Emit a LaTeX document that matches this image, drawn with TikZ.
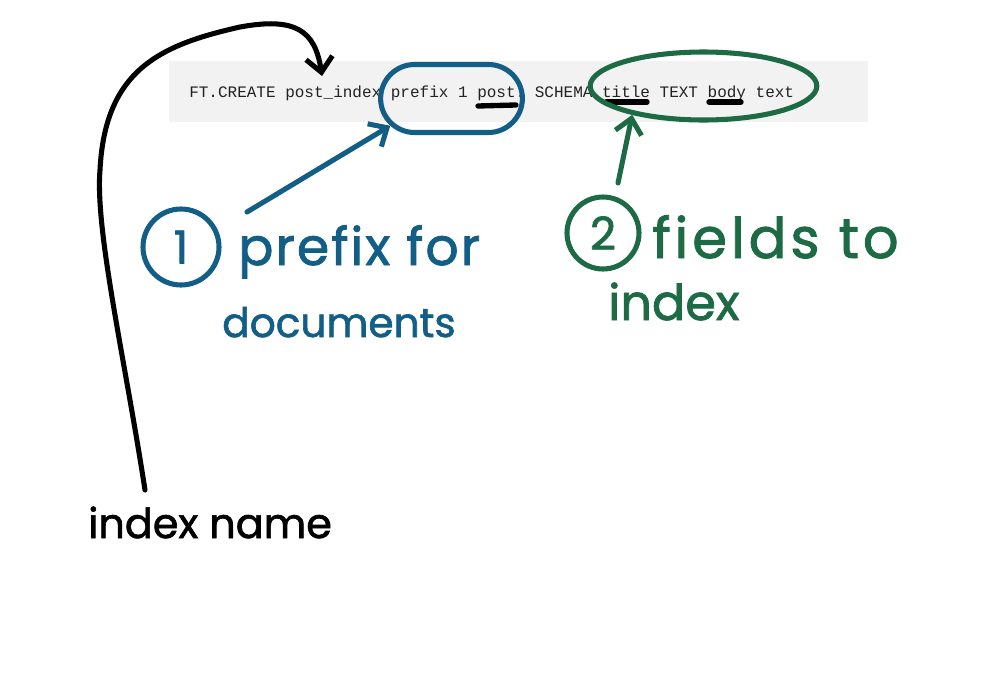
\documentclass[tikz,border=0pt]{standalone}
\usepackage{fontspec}
\setmonofont{Liberation Mono}
\newfontfamily\hand[FakeBold=1.6]{Poppins}
\newfontfamily\handA[FakeBold=1.6,LetterSpace=4]{Poppins}
\newfontfamily\handB[FakeBold=1.6,LetterSpace=7]{Poppins}
\usetikzlibrary{arrows.meta,shapes.geometric,shapes.misc}
\definecolor{codebg}{HTML}{F2F2F2}
\definecolor{codetxt}{HTML}{222222}
\definecolor{hblue}{HTML}{135E87}
\definecolor{hgreen}{HTML}{1D6B45}
\tikzset{
  pen/.style={line width=3.8pt, line cap=round, line join=round},
  barb/.style={-{Straight Barb[length=11pt,width=20pt,line width=3.8pt]}},
  handtext/.style={inner sep=0, anchor=base west},
  numcircle/.style={circle, pen, inner sep=0, font=\hand\fontsize{34}{36}\selectfont},
  underl/.style={line width=4pt, line cap=round}
}
\begin{document}
\begin{tikzpicture}[x=0.75pt,y=-0.75pt]
\useasboundingbox (0,0) rectangle (1000,700);
% code box
\fill[codebg] (169,61) rectangle (868,122);
\node[anchor=base west, inner sep=0, text=codetxt,
      font=\ttfamily\fontsize{12}{14}\selectfont] (code) at (189,97)
  {FT.CREATE post\_index prefix 1 post: SCHEMA title TEXT body text};
% underlines
\draw[underl] (478,106) -- (516,105);
\draw[underl] (606,102) -- (647,102);
\draw[underl] (709,102) -- (741,102);
% loops
\node[rounded rectangle, draw=hblue, pen, minimum width=113pt, minimum height=51pt] (e1) at (451.5,98.5) {};
\node[ellipse, draw=hgreen, pen, minimum width=170pt, minimum height=51pt] (e2) at (703.5,86) {};
% numbered circles
\node[numcircle, draw=hblue, text=hblue, minimum size=57pt] (c1) at (181,247) {1};
\node[numcircle, draw=hgreen, text=hgreen, minimum size=54pt] (c2) at (603,233) {2};
% labels
\node[handtext, text=hblue, font=\handA\fontsize{39}{39}\selectfont] (l1a) at (238,265) {prefix for};
\node[handtext, text=hblue, font=\hand\fontsize{30.5}{31}\selectfont] (l1b) at (222,337) {documents};
\node[handtext, text=hgreen, font=\handB\fontsize{42}{42}\selectfont] (l2a) at (652,258) {fields to};
\node[handtext, text=hgreen, font=\hand\fontsize{37}{37}\selectfont] (l2b) at (608,320) {index};
\node[handtext, text=black, font=\hand\fontsize{31}{31}\selectfont] (l0) at (88,538) {index name};
% arrows
\coordinate (s1) at (247,212);
\coordinate (s2) at (618,183);
\coordinate (s0) at (145,490);
\coordinate (t0) at (322,76);
\draw[pen, barb, hblue] (s1) -- (e1.-156);
\draw[pen, barb, hgreen] (s2) -- (e2.-158);
\draw[pen, barb, black] (s0) .. controls (125,360) and (95,230) .. (100,170)
  .. controls (105,70) and (160,45) .. (240,27)
  .. controls (295,17) and (315,30) .. (t0);
\end{tikzpicture}
\end{document}
